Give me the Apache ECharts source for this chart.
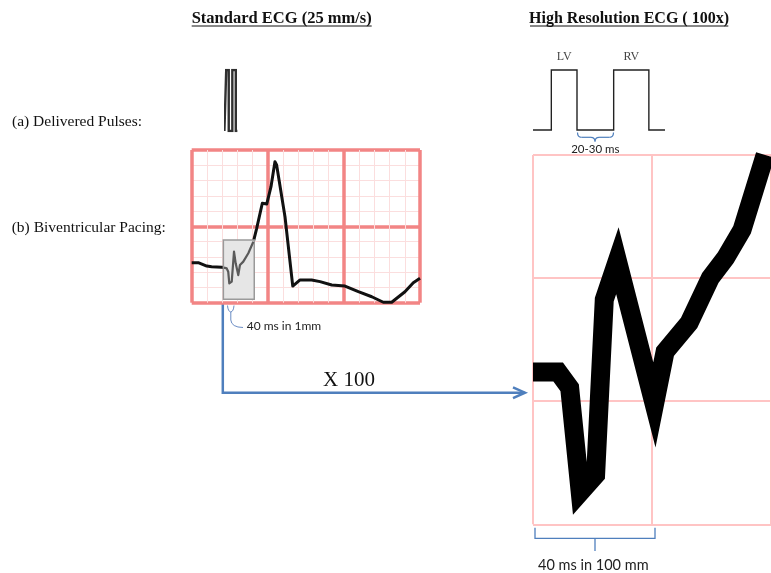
<!DOCTYPE html>
<html>
<head>
<meta charset="utf-8">
<script src="https://cdn.jsdelivr.net/npm/echarts@6/dist/echarts.min.js"></script>
<style>
  html, body { margin: 0; padding: 0; background: #fff; }
  #chart { width: 771px; height: 573px; }
</style>
</head>
<body>
<div id="chart"></div>
<script>
// ---- Standard ECG (25 mm/s): time and amplitude in small-box units ----
const stdTime = [0, 0.43, 0.99, 1.31, 1.97, 2.12, 2.30, 2.40, 2.47, 2.63, 2.78, 2.89, 3.06, 3.17, 3.39, 3.72, 4.05,
                 4.27, 4.64, 4.93, 5.21, 5.47, 5.58, 6.13, 6.64, 7.12, 7.88, 8.43, 9.20, 10.07, 10.95, 11.83, 12.59,
                 13.14, 14.01, 14.56, 15.0];
const stdVolt = [2.62, 2.62, 2.40, 2.36, 2.32, 2.30, 2.25, 2.03, 1.27, 1.38, 3.34, 2.58, 1.81, 2.47, 2.69, 3.24, 3.99,
                 4.87, 6.51, 6.46, 7.60, 9.23, 9.02, 5.63, 1.09, 1.49, 1.49, 1.38, 1.16, 1.09, 0.72, 0.39, 0.03,
                 0.03, 0.72, 1.31, 1.60];
// Window around the pacing spike that is magnified on the right
const zoomWindowTime = [2.08, 4.11];
const zoomWindowVolt = [0.22, 4.11];

// ---- High resolution ECG (100x): time and amplitude in large-box units ----
const hiTime = [0, 0.211, 0.308, 0.397, 0.526, 0.599, 0.709, 1.020, 1.110, 1.312, 1.490, 1.619, 1.757, 1.951];
const hiVolt = [1.238, 1.238, 1.110, 0.260, 0.401, 1.825, 2.141, 0.970, 1.402, 1.637, 2.002, 2.165, 2.393, 3.0];

// ---- Delivered pacing pulses (ms, on/off) ----
const pulseTime  = [0, 12.5, 12.5, 30, 30, 55, 55, 79, 79, 90];
const pulseLevel = [0, 0, 1, 1, 0, 0, 1, 1, 0, 0];
const pulseNames = ['LV', 'RV'];
const pulseMid   = [21.25, 67];

const zip = (xs, ys) => xs.map((x, i) => [x, ys[i]]);
const stdPoints = zip(stdTime, stdVolt);
const windowPoints = stdPoints.filter(p => p[0] >= zoomWindowTime[0] && p[0] <= zoomWindowTime[1]);

const serif = '"Liberation Serif", "Times New Roman", serif';
const sans = 'Lato, "Open Sans", sans-serif';
const blue = '#4f7fbd';

const hiddenAxis = { show: false };

// small helpers for annotation strokes
const seg = (x1, y1, x2, y2, stroke, w) => ({ type: 'line', shape: { x1, y1, x2, y2 }, style: { stroke, lineWidth: w } });
const curve = (x1, y1, cx, cy, x2, y2, stroke, w) => ({ type: 'bezierCurve', shape: { x1, y1, x2, y2, cpx1: cx, cpy1: cy }, style: { stroke, lineWidth: w, fill: null } });

const chart = echarts.init(document.getElementById('chart'), null, { renderer: 'canvas' });

chart.setOption({
  animation: false,
  backgroundColor: '#ffffff',
  grid: [
    { left: 191.7, top: 150, width: 228.3, height: 152.7 },   // standard ECG paper
    { left: 533, top: 155, width: 247, height: 369.3 },        // high-resolution paper
    { left: 533, top: 70, width: 132, height: 60 },            // pulses, high-resolution
    { left: 226, top: 70, width: 10, height: 61 }              // pulses, standard speed
  ],
  xAxis: [
    {
      gridIndex: 0, type: 'value', min: 0, max: 15, interval: 5,
      axisLine: { show: false }, axisTick: { show: false }, axisLabel: { show: false },
      splitLine: { show: true, lineStyle: { color: '#f28585', width: 3.5 } },
      minorTick: { show: false, splitNumber: 5 },
      minorSplitLine: { show: true, lineStyle: { color: '#fbdede', width: 1 } }
    },
    {
      gridIndex: 1, type: 'value', min: 0, max: 2, interval: 1,
      axisLine: { show: false }, axisTick: { show: false }, axisLabel: { show: false },
      splitLine: { show: true, lineStyle: { color: '#ffc4c4', width: 2 } }
    },
    { gridIndex: 2, type: 'value', min: 0, max: 90, ...hiddenAxis },
    { gridIndex: 3, type: 'value', min: 11, max: 80.5, ...hiddenAxis }
  ],
  yAxis: [
    {
      gridIndex: 0, type: 'value', min: 0, max: 10, interval: 5,
      axisLine: { show: false }, axisTick: { show: false }, axisLabel: { show: false },
      splitLine: { show: true, lineStyle: { color: '#f28585', width: 3.5 } },
      minorTick: { show: false, splitNumber: 5 },
      minorSplitLine: { show: true, lineStyle: { color: '#fbdede', width: 1 } }
    },
    {
      gridIndex: 1, type: 'value', min: 0, max: 3, interval: 1,
      axisLine: { show: false }, axisTick: { show: false }, axisLabel: { show: false },
      splitLine: { show: true, lineStyle: { color: '#ffc4c4', width: 2 } }
    },
    { gridIndex: 2, type: 'value', min: 0, max: 1, ...hiddenAxis },
    { gridIndex: 3, type: 'value', min: 0, max: 1, ...hiddenAxis }
  ],
  series: [
    {
      name: 'Standard ECG', type: 'line', xAxisIndex: 0, yAxisIndex: 0, z: 2,
      data: stdPoints, showSymbol: false, clip: false,
      lineStyle: { color: '#111', width: 3, join: 'round' }
    },
    {
      name: 'Magnified window', type: 'line', xAxisIndex: 0, yAxisIndex: 0, z: 4,
      data: windowPoints, showSymbol: false,
      lineStyle: { color: '#5a5a5a', width: 2.2, join: 'round' },
      markArea: {
        z: 3, silent: true,
        itemStyle: { color: '#e6e6e6', borderColor: '#9a9a9a', borderWidth: 1.5 },
        data: [[{ coord: [zoomWindowTime[0], zoomWindowVolt[1]] }, { coord: [zoomWindowTime[1], zoomWindowVolt[0]] }]]
      }
    },
    {
      name: 'High resolution ECG', type: 'line', xAxisIndex: 1, yAxisIndex: 1, z: 3,
      data: zip(hiTime, hiVolt), showSymbol: false, clip: false,
      lineStyle: { color: '#000', width: 19, join: 'miter', miterLimit: 10, cap: 'butt' }
    },
    {
      name: 'Pulses', type: 'line', xAxisIndex: 2, yAxisIndex: 2,
      data: zip(pulseTime, pulseLevel), showSymbol: false, clip: false,
      lineStyle: { color: '#222', width: 1.4, join: 'miter' }
    },
    {
      name: 'Pulse names', type: 'scatter', xAxisIndex: 2, yAxisIndex: 2,
      data: pulseMid.map((t, i) => ({ value: [t, 1], name: pulseNames[i] })),
      symbolSize: 0,
      label: {
        show: true, position: 'top', distance: 7,
        formatter: p => p.name,
        fontFamily: serif, fontSize: 12, color: '#111'
      }
    },
    {
      name: 'Pulses (25 mm/s)', type: 'line', xAxisIndex: 3, yAxisIndex: 3,
      data: zip(pulseTime, pulseLevel), showSymbol: false, clip: true,
      lineStyle: { color: '#303030', width: 2.4, join: 'miter' }
    }
  ],
  graphic: [
    // headings
    { type: 'text', x: 281.7, y: 18.5, style: { text: 'Standard ECG (25 mm/s)', font: 'bold 16.5px ' + serif, fill: '#111', align: 'center', verticalAlign: 'middle' } },
    seg(191.7, 26, 371.7, 26, '#111', 1),
    { type: 'text', x: 629, y: 18.5, style: { text: 'High Resolution ECG ( 100x)', font: 'bold 16px ' + serif, fill: '#111', align: 'center', verticalAlign: 'middle' } },
    seg(530, 26, 728.3, 26, '#111', 1),

    // row labels
    { type: 'text', x: 12, y: 121.7, style: { text: '(a) Delivered Pulses:', font: '15.5px ' + serif, fill: '#111', align: 'left', verticalAlign: 'middle' } },
    { type: 'text', x: 11.7, y: 228.3, style: { text: '(b) Biventricular Pacing:', font: '15.5px ' + serif, fill: '#111', align: 'left', verticalAlign: 'middle' } },

    // LV-RV delay brace
    curve(577.5, 132.5, 577.5, 137.3, 581.5, 137.3, blue, 1.2),
    seg(581.5, 137.3, 591, 137.3, blue, 1.2),
    curve(591, 137.3, 595, 137.3, 595, 141.5, blue, 1.2),
    curve(595, 141.5, 595, 137.3, 599, 137.3, blue, 1.2),
    seg(599, 137.3, 609.5, 137.3, blue, 1.2),
    curve(609.5, 137.3, 613.5, 137.3, 613.5, 132.5, blue, 1.2),
    { type: 'text', x: 595.3, y: 149.5, style: { text: '20-30 ms', font: '11.5px ' + sans, fill: '#222', align: 'center', verticalAlign: 'middle' } },

    // 1 mm brace under the standard trace
    curve(227.5, 305.5, 228, 311.5, 230.8, 312, '#6a8cc4', 1),
    curve(234, 305.5, 233.5, 311.5, 230.8, 312, '#6a8cc4', 1),
    seg(230.8, 312, 230.8, 320, '#6a8cc4', 1),
    curve(230.8, 320, 231.5, 327.3, 243, 327.5, '#6a8cc4', 1),
    { type: 'text', x: 246.7, y: 326.5, style: { text: '40 ms in 1mm', font: '12px ' + sans, fill: '#222', align: 'left', verticalAlign: 'middle' } },

    // magnification arrow
    { type: 'polyline', shape: { points: [[222.8, 303], [222.8, 392.7], [524.5, 392.7]] }, style: { stroke: blue, lineWidth: 2.5, fill: null } },
    { type: 'polyline', shape: { points: [[513, 387.3], [525, 392.7], [513, 398.1]] }, style: { stroke: blue, lineWidth: 2.5, fill: null } },
    { type: 'text', x: 349, y: 380, style: { text: 'X 100', font: '21px ' + serif, fill: '#111', align: 'center', verticalAlign: 'middle' } },

    // 100 mm brace under the high-resolution trace
    { type: 'polyline', shape: { points: [[535, 527.7], [535, 538.3], [655, 538.3], [655, 527.7]] }, style: { stroke: blue, lineWidth: 1.3, fill: null } },
    seg(595, 538.3, 595, 551, blue, 1.3),
    { type: 'text', x: 593.3, y: 565.5, style: { text: '40 ms in 100 mm', font: '14.5px ' + sans, fill: '#222', align: 'center', verticalAlign: 'middle' } }
  ]
});
</script>
</body>
</html>
